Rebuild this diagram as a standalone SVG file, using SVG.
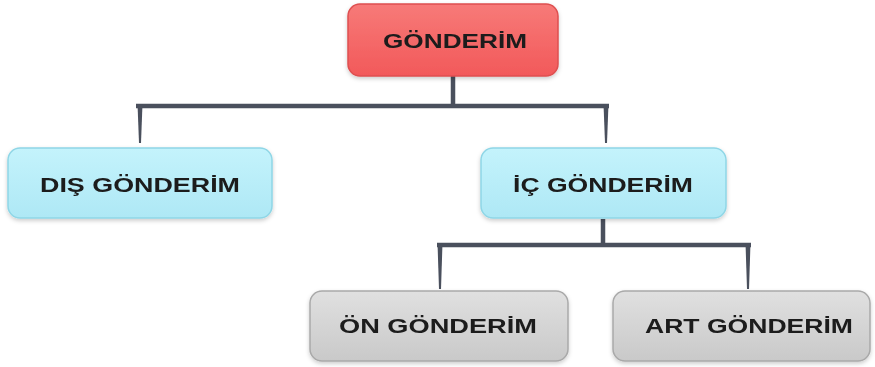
<svg xmlns="http://www.w3.org/2000/svg" width="875" height="367" viewBox="0 0 875 367">
<defs>
<linearGradient id="gRed" x1="0" y1="0" x2="0" y2="1"><stop offset="0" stop-color="#f77a78"/><stop offset="1" stop-color="#f2595a"/></linearGradient>
<linearGradient id="gBlue" x1="0" y1="0" x2="0" y2="1"><stop offset="0" stop-color="#c4f3fc"/><stop offset="1" stop-color="#aee8f5"/></linearGradient>
<linearGradient id="gGray" x1="0" y1="0" x2="0" y2="1"><stop offset="0" stop-color="#e0e0e0"/><stop offset="1" stop-color="#c9c9c9"/></linearGradient>
<filter id="sh" x="-10%" y="-10%" width="120%" height="130%"><feDropShadow dx="0" dy="2" stdDeviation="2" flood-color="#000" flood-opacity="0.2"/></filter>
</defs>
<style>
text{font-family:"Liberation Sans",Arial,sans-serif;font-weight:bold;font-size:21px;fill:#1b1b1b;text-anchor:middle;dominant-baseline:central}
.red{fill:url(#gRed);stroke:#de4f50;stroke-width:1.5}
.blue{fill:url(#gBlue);stroke:#8fd6e6;stroke-width:1.5}
.gray{fill:url(#gGray);stroke:#a9a9a9;stroke-width:1.5}
.ln{fill:none;stroke:#4a505d;stroke-width:4.5}
.tip{fill:#4a505d}
</style>
<rect width="875" height="367" fill="#ffffff"/>
<g id="connectors">
<path class="ln" d="M453 76V106M136 106H609"/>
<polygon class="tip" points="137.5,104 142.5,104 141,143 139,143"/>
<polygon class="tip" points="603.5,104 608.5,104 607,143 605,143"/>
<path class="ln" d="M603 219V245M437 245H751"/>
<polygon class="tip" points="437.5,243 442.5,243 441,289 439,289"/>
<polygon class="tip" points="745.5,243 750.5,243 749,289 747,289"/>
</g>
<g id="node-gonderim" filter="url(#sh)">
<rect class="red" x="348" y="4" width="210" height="72" rx="12"/>
<text x="455" y="40" textLength="144" lengthAdjust="spacingAndGlyphs">GÖNDERİM</text>
</g>
<g id="node-dis" filter="url(#sh)">
<rect class="blue" x="8" y="148" width="264" height="70" rx="12"/>
<text x="140" y="184" textLength="200" lengthAdjust="spacingAndGlyphs">DIŞ GÖNDERİM</text>
</g>
<g id="node-ic" filter="url(#sh)">
<rect class="blue" x="481" y="148" width="245" height="70" rx="12"/>
<text x="603" y="184" textLength="180" lengthAdjust="spacingAndGlyphs">İÇ GÖNDERİM</text>
</g>
<g id="node-on" filter="url(#sh)">
<rect class="gray" x="310" y="291" width="258" height="70" rx="12"/>
<text x="438" y="325" textLength="198" lengthAdjust="spacingAndGlyphs">ÖN GÖNDERİM</text>
</g>
<g id="node-art" filter="url(#sh)">
<rect class="gray" x="613" y="291" width="257" height="70" rx="12"/>
<text x="749" y="325" textLength="208" lengthAdjust="spacingAndGlyphs">ART GÖNDERİM</text>
</g>
</svg>
